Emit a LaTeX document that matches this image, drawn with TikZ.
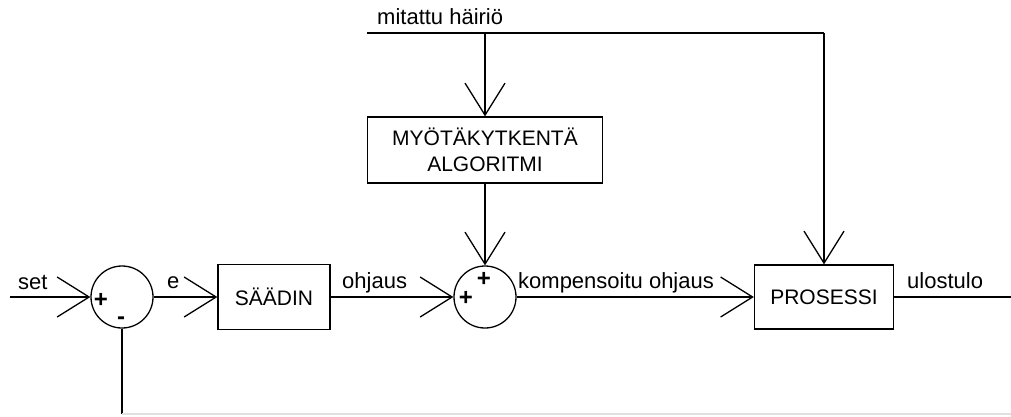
\documentclass[tikz,border=0pt]{standalone}
\usepackage{fontspec}
\setmainfont{Liberation Sans}
\usetikzlibrary{arrows.meta, positioning}

\tikzset{
  blockbox/.style={draw, line width=1.3pt, minimum height=65pt, inner sep=0pt, align=center, font=\fontsize{21}{26}\selectfont},
  sumnode/.style={draw, circle, line width=1.3pt, minimum size=62pt, inner sep=0pt},
  lbl/.style={font=\fontsize{22}{26}\selectfont, inner sep=0pt, anchor=base west},
  sign/.style={font=\fontsize{24}{26}\selectfont\bfseries, inner sep=0pt},
  sig/.style={line width=1.3pt, -{Straight Barb[length=32pt, width=40pt]}},
  wire/.style={line width=1.3pt}
}

\begin{document}
\begin{tikzpicture}[x=1pt, y=-1pt]
  \useasboundingbox (0,0) rectangle (1011,416);

  % blocks
  \node[sumnode] (sum1) at (122,297) {};
  \node[blockbox, minimum width=112pt] (saadin) at (274,297) {SÄÄDIN};
  \node[sumnode] (sum2) at (485,297) {};
  \node[blockbox, minimum width=235pt, minimum height=66pt] (myota) at (485,150) {MYÖTÄKYTKENTÄ\\ALGORITMI};
  \node[blockbox, minimum width=139pt, minimum height=64pt] (prosessi) at (824,297) {PROSESSI};

  % signs
  \node[sign] (p1) at ([xshift=-21pt, yshift=-3pt]sum1.center) {+};
  \node[sign] (m1) at ([xshift=-1pt, yshift=-24pt]sum1.center) {-};
  \node[sign] (p2) at ([xshift=-19pt, yshift=-1pt]sum2.center) {+};
  \node[sign] (p3) at ([xshift=-1pt, yshift=18pt]sum2.center) {+};

  % free ends
  \coordinate (setin) at (10,297);
  \coordinate (out) at (1011,297);
  \coordinate (hleft) at (367,33);
  \coordinate (hmid) at (485,33);
  \coordinate (hcorner) at (824,33);
  \coordinate (fbend) at (122,414);
  \coordinate (fbend2) at (1011,414);

  % labels
  \node[lbl] (lset) at (18,289) {set};
  \node[lbl] (le) at (167,288) {e};
  \node[lbl] (lohj) at (342,288) {ohjaus};
  \node[lbl] (lkomp) at (518,288) {kompensoitu ohjaus};
  \node[lbl] (lulos) at (907,288) {ulostulo};
  \node[lbl] (lhairio) at (377,24) {mitattu häiriö};

  % connectors
  \draw[sig] (setin) -- (sum1);
  \draw[sig] (sum1) -- (saadin);
  \draw[sig] (saadin) -- (sum2);
  \draw[sig] (sum2) -- (prosessi);
  \draw[wire] (prosessi) -- (out);
  \draw[wire] (hleft) -- (hcorner);
  \draw[sig] (hcorner) -- (prosessi);
  \draw[sig] (hmid) -- (myota);
  \draw[sig] (myota) -- (sum2);
  \draw[wire] (sum1) -- (fbend);
  \draw[line width=1.3pt, black!12] (fbend) -- (fbend2);
\end{tikzpicture}
\end{document}
